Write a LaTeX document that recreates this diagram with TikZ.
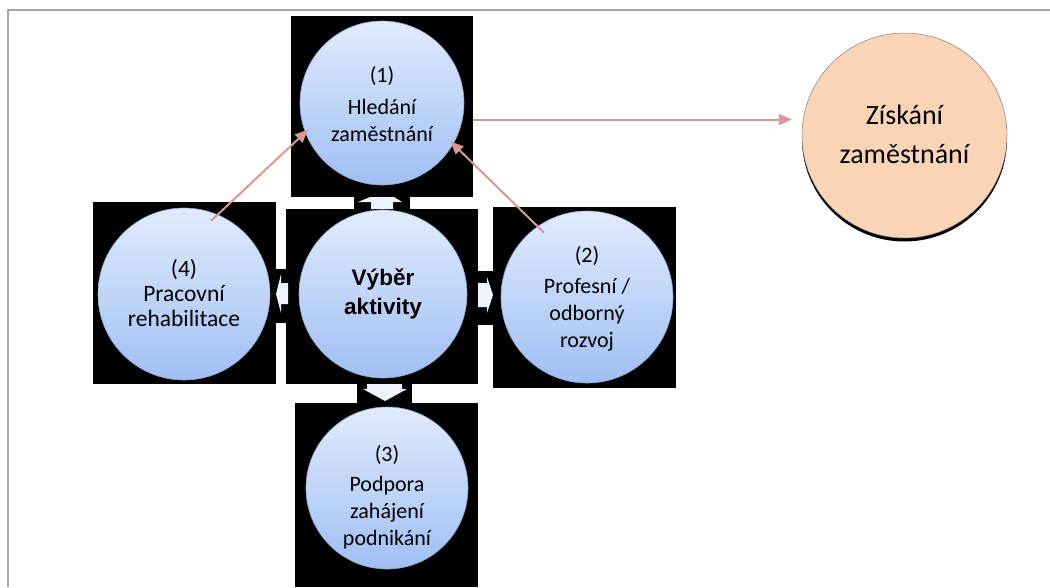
\documentclass[tikz,border=0pt]{standalone}
\usepackage{fontspec}
\setmainfont{Carlito}
\newfontfamily\arialbold{Liberation Sans}
\usetikzlibrary{arrows.meta,calc}
\definecolor{frameg}{HTML}{A6A6A6}
\definecolor{btop}{HTML}{E1EBFC}
\definecolor{bbot}{HTML}{9FBFF4}
\definecolor{bedge}{HTML}{8EA6CF}
\definecolor{peach}{HTML}{FAD4B4}
\definecolor{pinkline}{HTML}{D99795}
\definecolor{blockarr}{HTML}{EEF3FD}
\tikzset{
  blackbox/.style={rectangle, fill=black, inner sep=0pt},
  bubble/.style={circle, inner sep=0pt, top color=btop, bottom color=bbot, draw=bedge, line width=0.6pt},
  btext/.style={align=center, font=\fontsize{22}{27}\selectfont, text=black},
  pinkarr/.style={draw=pinkline, line width=2pt, -{Triangle[length=13pt,width=11pt]}},
  blockfill/.style={fill=blockarr}
}
\begin{document}
\begin{tikzpicture}[x=1pt,y=-1pt]
\useasboundingbox (0,0) rectangle (1050,587);
% frame
\draw[frameg, line width=2pt] (1050,10) -- (8,10) -- (8,587);
% black backgrounds
\node[blackbox, minimum width=182pt, minimum height=181pt] (b1) at (382,106.5) {};
\node[blackbox, minimum width=192pt, minimum height=175pt] (b0) at (382,296.5) {};
\node[blackbox, minimum width=183pt, minimum height=182pt] (b4) at (184.5,293) {};
\node[blackbox, minimum width=183pt, minimum height=181pt] (b2) at (584.5,297.5) {};
\node[blackbox, minimum width=183pt, minimum height=184pt] (b3) at (386.5,495) {};
% connector boxes
\node[blackbox, minimum width=56pt, minimum height=12pt] (k1) at (382,203) {};
\node[blackbox, minimum width=11pt, minimum height=54pt] (k4) at (281.5,296) {};
\node[blackbox, minimum width=15pt, minimum height=54pt] (k2) at (485.5,298) {};
\node[blackbox, minimum width=55pt, minimum height=19pt] (k3) at (384.5,393.5) {};
% block arrows
\fill[blockfill] (358,202) -- (370,197) -- (394,197) -- (402,202) -- (393,202) -- (393,209) -- (371,209) -- (371,202) -- cycle;
\fill[blockfill] (367,384) -- (402,384) -- (402,389) -- (407,389) -- (385,401) -- (363,389) -- (367,389) -- cycle;
\fill[blockfill] (288,283) -- (281,283) -- (281,274) -- (276,294) -- (281,313) -- (281,304) -- (288,304) -- cycle;
\fill[blockfill] (478,283) -- (487,283) -- (487,277) -- (493,295) -- (487,313) -- (487,307) -- (478,307) -- cycle;
% circles
\node[bubble, minimum size=164pt] (c1) at (382,103) {};
\node[bubble, minimum size=168pt] (c0) at (383,294) {};
\node[bubble, minimum size=172pt] (c4) at (184,294) {};
\node[bubble, minimum size=172pt] (c2) at (587,297) {};
\node[bubble, minimum size=162pt] (c3) at (387,488) {};
% texts
\node[btext] (t1) at (382,104) {(1)\\[5pt]Hledání\\zaměstnání};
\node[btext, font=\fontsize{23.5}{25}\selectfont] (t4) at (184,293) {(4)\\Pracovní\\rehabilitace};
\node[btext] (t2) at (587,299) {(2)\\[4pt]Profesní /\\odborný\\rozvoj};
\node[btext] (t3) at (387,497) {(3)\\[3pt]Podpora\\zahájení\\podnikání};
\node[align=center, font=\arialbold\bfseries\fontsize{22.5}{29}\selectfont] (t0) at (383,294) {Výběr\\aktivity};
% target circle
\fill[black] (904.5,139) circle (102.5pt);
\node[circle, minimum size=205pt, inner sep=0pt, fill=peach, draw=gray, line width=0.5pt] (c5) at (904.5,135.5) {};
\node[align=center, font=\fontsize{28}{39}\selectfont] (t5) at (904.5,134) {Získání\\zaměstnání};
% pink connectors
\coordinate (s1) at ([yshift=-13pt]b1.east);
\draw[pinkarr, shorten >=10pt] (s1) -- (c5.west |- s1);
\draw[pinkarr, shorten <=-9pt, shorten >=-4pt] (c4.67) -- (c1.201);
\draw[pinkarr, shorten <=-9pt, shorten >=-4pt] (c2.125) -- (c1.330);
\end{tikzpicture}
\end{document}
